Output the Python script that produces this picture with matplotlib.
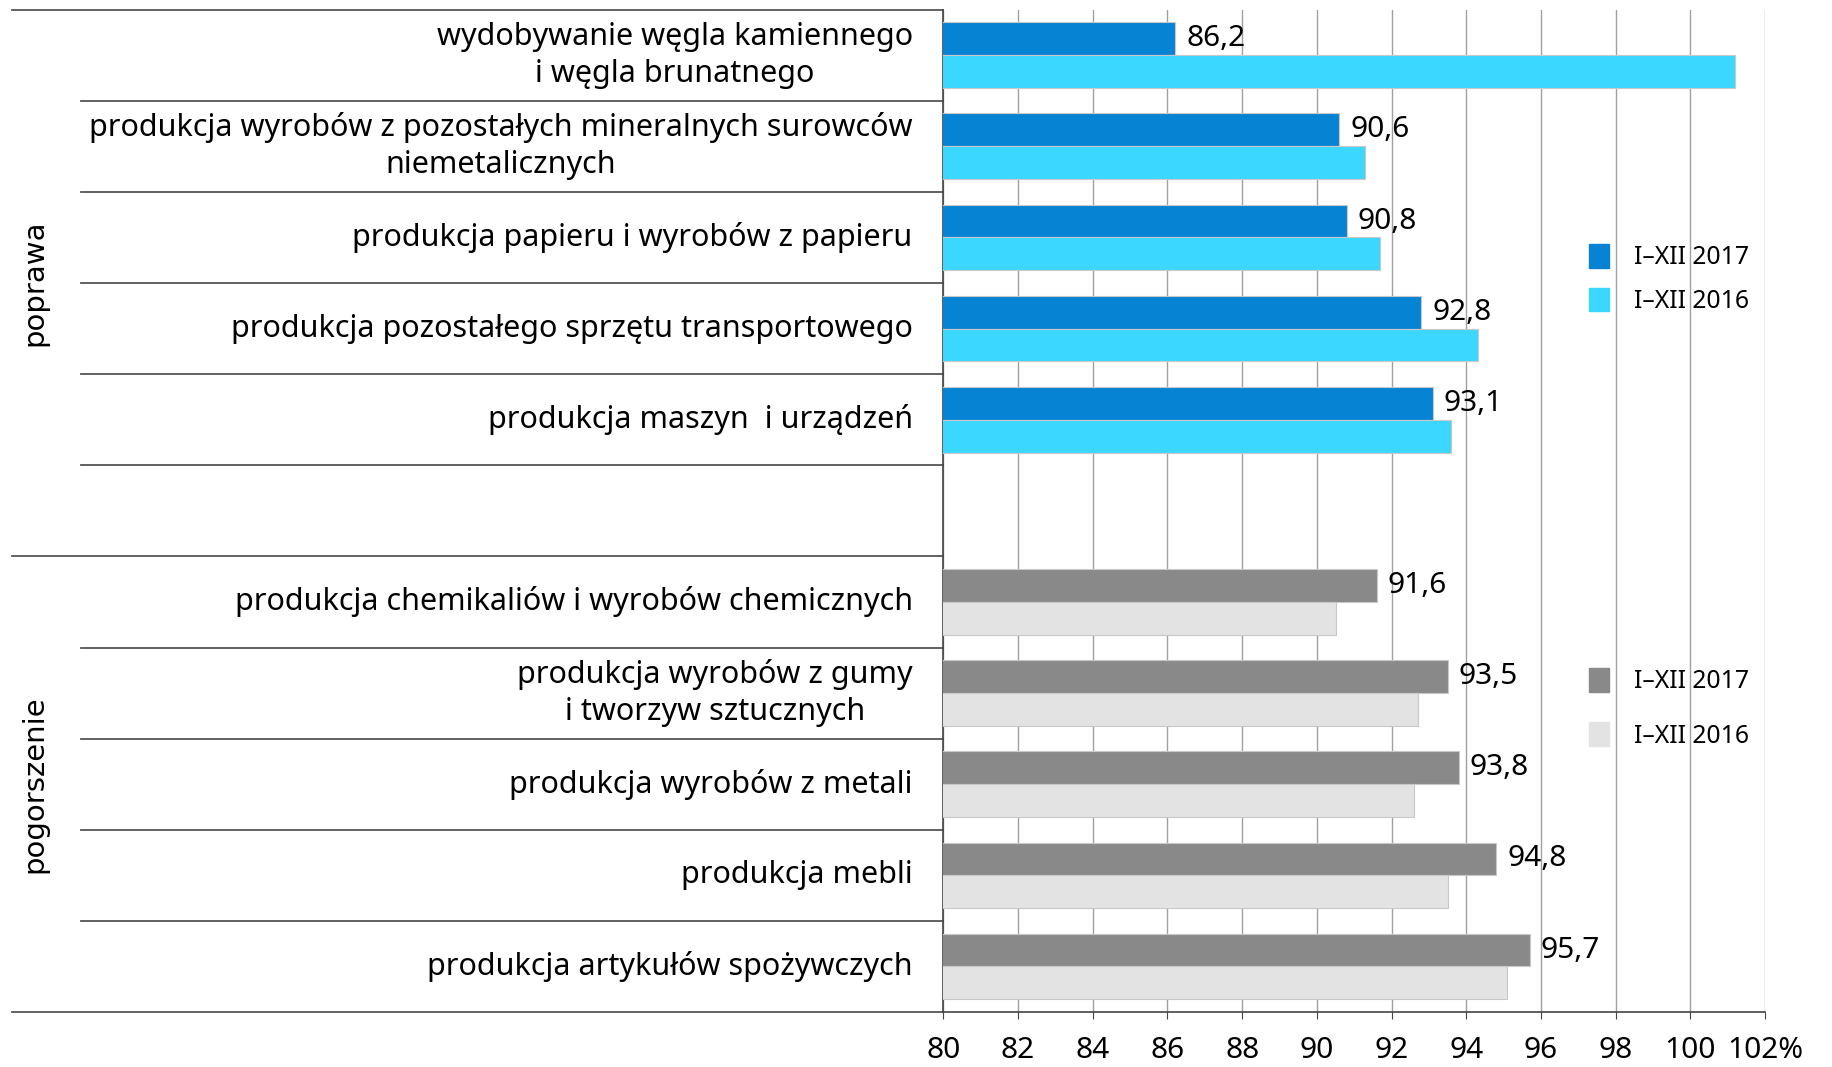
import numpy as np
import matplotlib.pyplot as plt
from matplotlib import transforms
from matplotlib.patches import Patch

plt.rcParams['font.family'] = ['Noto Sans', 'DejaVu Sans']

categories = ['wydobywanie węgla kamiennego\ni węgla brunatnego',
              'produkcja wyrobów z pozostałych mineralnych surowców\nniemetalicznych',
              'produkcja papieru i wyrobów z papieru',
              'produkcja pozostałego sprzętu transportowego',
              'produkcja maszyn  i urządzeń',
              'produkcja chemikaliów i wyrobów chemicznych',
              'produkcja wyrobów z gumy\ni tworzyw sztucznych',
              'produkcja wyrobów z metali',
              'produkcja mebli',
              'produkcja artykułów spożywczych']
v2017 = [86.2, 90.6, 90.8, 92.8, 93.1, 91.6, 93.5, 93.8, 94.8, 95.7]
v2016 = [101.2, 91.3, 91.7, 94.3, 93.6, 90.5, 92.7, 92.6, 93.5, 95.1]
labels_2017 = ['86,2', '90,6', '90,8', '92,8', '93,1', '91,6', '93,5', '93,8', '94,8', '95,7']
slots = [0, 1, 2, 3, 4, 6, 7, 8, 9, 10]
groups = ['poprawa', 'pogorszenie']
series = ['I–XII 2017', 'I–XII 2016']
xticks = [80, 82, 84, 86, 88, 90, 92, 94, 96, 98, 100, 102]
xtick_labels = ['80', '82', '84', '86', '88', '90', '92', '94', '96', '98', '100', '102%']

blue = ['#0783d4', '#3bd7ff']
grey = ['#898989', '#e3e3e3']

fig = plt.figure(figsize=(18.33, 10.67), dpi=100)
ax_left, ax_right, ax_bottom, ax_top = 0.5146, 0.963, 0.0515, 0.991
ax = fig.add_axes([ax_left, ax_bottom, ax_right - ax_left, ax_top - ax_bottom])

h = 0.36
for i, s in enumerate(slots):
    cols = blue if i < 5 else grey
    ax.barh(s + 0.5 - h / 2, v2017[i], height=h, color=cols[0], edgecolor='#c8c8c8', lw=0.8, zorder=3)
    ax.barh(s + 0.5 + h / 2, v2016[i], height=h, color=cols[1], edgecolor='#c8c8c8', lw=0.8, zorder=3)
    ax.annotate(labels_2017[i], (v2017[i], s + 0.5 - h / 2), xytext=(8, 0), textcoords='offset points',
                ha='left', va='center', fontsize=21.5)

ax.set_xlim(80, 102)
ax.set_ylim(11, 0)
ax.set_xticks(xticks)
ax.set_xticklabels(xtick_labels, fontsize=21.5)
ax.tick_params(axis='x', length=5, color='#444444', pad=12)
ax.grid(axis='x', color='#a0a0a0', lw=1, zorder=0)

ax.set_yticks([s + 0.5 for s in slots])
ax.set_yticklabels(categories, fontsize=22, linespacing=1.3)
for lbl in ax.get_yticklabels():
    lbl.set_multialignment('center')
    lbl.set_verticalalignment('center')
ax.tick_params(axis='y', length=0, pad=22)

for sp in ['top', 'right']:
    ax.spines[sp].set_visible(False)
ax.spines['left'].set_color('#444444')
ax.spines['bottom'].set_color('#444444')
ax.spines['left'].set_linewidth(1.2)
ax.spines['bottom'].set_linewidth(1.2)

# separators between categories, running into the label area
trans = transforms.blended_transform_factory(fig.transFigure, ax.transData)
for y in range(12):
    x0 = 0.0065 if y in (0, 6, 11) else 0.044
    ax.plot([x0, ax_left], [y, y], transform=trans, clip_on=False, color='#555555', lw=1.3)

# group labels
fig.text(0.019, ax.transData.transform((0, 3))[1] / fig.bbox.height, groups[0], rotation=90,
         ha='center', va='center', fontsize=21, family='DejaVu Sans')
fig.text(0.019, ax.transData.transform((0, 8.5))[1] / fig.bbox.height, groups[1], rotation=90,
         ha='center', va='center', fontsize=21, family='DejaVu Sans')

leg1 = ax.legend(handles=[Patch(color=blue[0], label=series[0]), Patch(color=blue[1], label=series[1])],
                 loc='upper left', bbox_to_anchor=(0.855, 0.792), bbox_transform=fig.transFigure,
                 frameon=False, fontsize=17.8, handlelength=0.8, handleheight=1.1, handletextpad=1.0,
                 labelspacing=0.7)
ax.add_artist(leg1)
ax.legend(handles=[Patch(color=grey[0], label=series[0]), Patch(color=grey[1], label=series[1])],
          loc='upper left', bbox_to_anchor=(0.855, 0.395), bbox_transform=fig.transFigure,
          frameon=False, fontsize=17.8, handlelength=0.8, handleheight=1.1, handletextpad=1.0,
          labelspacing=1.15)

fig.savefig('out.png', dpi=100)
